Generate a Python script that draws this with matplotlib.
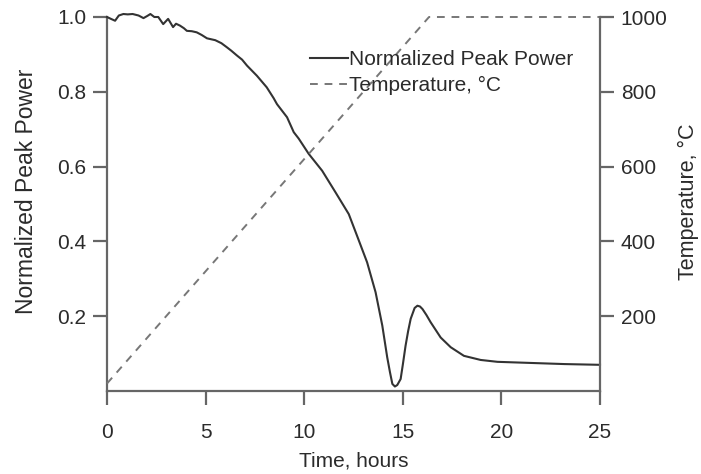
import matplotlib
matplotlib.use("Agg")
import matplotlib.pyplot as plt

# ---- data ----
time_h = [0, 0.2, 0.41, 0.6, 0.83, 1.05, 1.3, 1.6, 1.85, 2.05, 2.2, 2.4, 2.6, 2.85,
          3.1, 3.35, 3.5, 3.7, 3.9, 4.05, 4.3, 4.55, 4.8, 5.07, 5.49, 5.8, 6.08,
          6.3, 6.59, 6.85, 7.1, 7.6, 8.1, 8.45, 8.62, 9.13, 9.47, 9.72, 10.23,
          10.91, 11.59, 12.26, 12.68, 13.19, 13.62, 13.96, 14.21, 14.35, 14.47,
          14.6, 14.72, 14.89, 15.0, 15.14, 15.27, 15.4, 15.6, 15.74, 15.87, 16.0,
          16.2, 16.41, 16.92, 17.43, 18.1, 18.95, 19.8, 21.5, 23.2, 25.0]
peak_power = [1.0, 0.995, 0.99, 1.004, 1.008, 1.007, 1.008, 1.004, 0.997, 1.003,
              1.008, 1.0, 1.0, 0.981, 0.995, 0.973, 0.982, 0.977, 0.97, 0.963,
              0.962, 0.959, 0.952, 0.943, 0.938, 0.93, 0.919, 0.91, 0.897, 0.886,
              0.870, 0.843, 0.812, 0.783, 0.767, 0.732, 0.692, 0.675, 0.634,
              0.589, 0.531, 0.473, 0.415, 0.344, 0.264, 0.175, 0.090, 0.05, 0.019,
              0.012, 0.016, 0.032, 0.07, 0.121, 0.16, 0.193, 0.222, 0.228, 0.226,
              0.219, 0.203, 0.184, 0.143, 0.117, 0.094, 0.083, 0.078, 0.075,
              0.072, 0.070]

temp_time = [0, 16.33, 25.0]
temp_c = [20, 1000, 1000]

x_ticks = [0, 5, 10, 15, 20, 25]
left_ticks = [0.2, 0.4, 0.6, 0.8, 1.0]
right_ticks = [200, 400, 600, 800, 1000]

# ---- style ----
plt.rcParams['font.family'] = ['Liberation Sans', 'DejaVu Sans']
FS = 15
TXT = '#2b2b2b'
AX = '#666666'

fig = plt.figure(figsize=(7.01, 4.74), dpi=100)
W, H = 701, 474
ax = fig.add_axes([107 / W, 1 - 391 / H, (600 - 107) / W, (391 - 17) / H])
ax2 = ax.twinx()

l1, = ax.plot(time_h, peak_power, color='#333333', lw=1.5,
              label='Normalized Peak Power', zorder=3, clip_on=False)
l2, = ax2.plot(temp_time, temp_c, color='#777777', lw=1.4,
               dashes=(4, 3.5), label='Temperature, \u00b0C', clip_on=False)

ax.set_xlim(0, 25)
ax.set_ylim(0, 1.0)
ax2.set_ylim(0, 1000)

ax.set_xticks(x_ticks)
ax.set_yticks(left_ticks)
ax.set_yticklabels([f'{v:.1f}' for v in left_ticks])
ax2.set_yticks(right_ticks)

for a in (ax, ax2):
    for s in a.spines.values():
        s.set_color(AX)
        s.set_linewidth(1.6)
    a.spines['top'].set_visible(False)
ax.spines['right'].set_visible(False)
ax2.spines['left'].set_visible(False)
ax2.spines['bottom'].set_visible(False)

ax.tick_params(axis='x', direction='out', length=10, width=1.6, color=AX,
               labelsize=FS, labelcolor=TXT, pad=13)
ax.tick_params(axis='y', direction='out', length=10, width=1.6, color=AX,
               labelsize=FS, labelcolor=TXT, pad=5)
ax2.tick_params(axis='y', direction='out', length=10, width=1.6, color=AX,
                labelsize=FS, labelcolor=TXT, pad=5)

ax.set_xlabel('Time, hours', fontsize=FS, color=TXT, labelpad=7)
ax.set_ylabel('Normalized Peak Power', fontsize=16.5, color=TXT, va='center')
ax.yaxis.set_label_coords((27 - 107) / 493, (391 - 191) / 374)
ax2.set_ylabel('Temperature, \u00b0C', fontsize=15.5, color=TXT, va='center',
               rotation=90)
ax2.yaxis.set_label_coords((688 - 107) / 493, (391 - 202) / 374)

leg = ax2.legend([l1, l2], [l1.get_label(), l2.get_label()],
                 loc='upper left', bbox_to_anchor=(310 / W, 1 - 50 / H),
                 bbox_transform=fig.transFigure, frameon=False,
                 fontsize=FS, handlelength=1.8, handletextpad=0.05,
                 labelspacing=0.35, borderpad=0, borderaxespad=0)
for t in leg.get_texts():
    t.set_color(TXT)

fig.savefig('out.png', dpi=100)
